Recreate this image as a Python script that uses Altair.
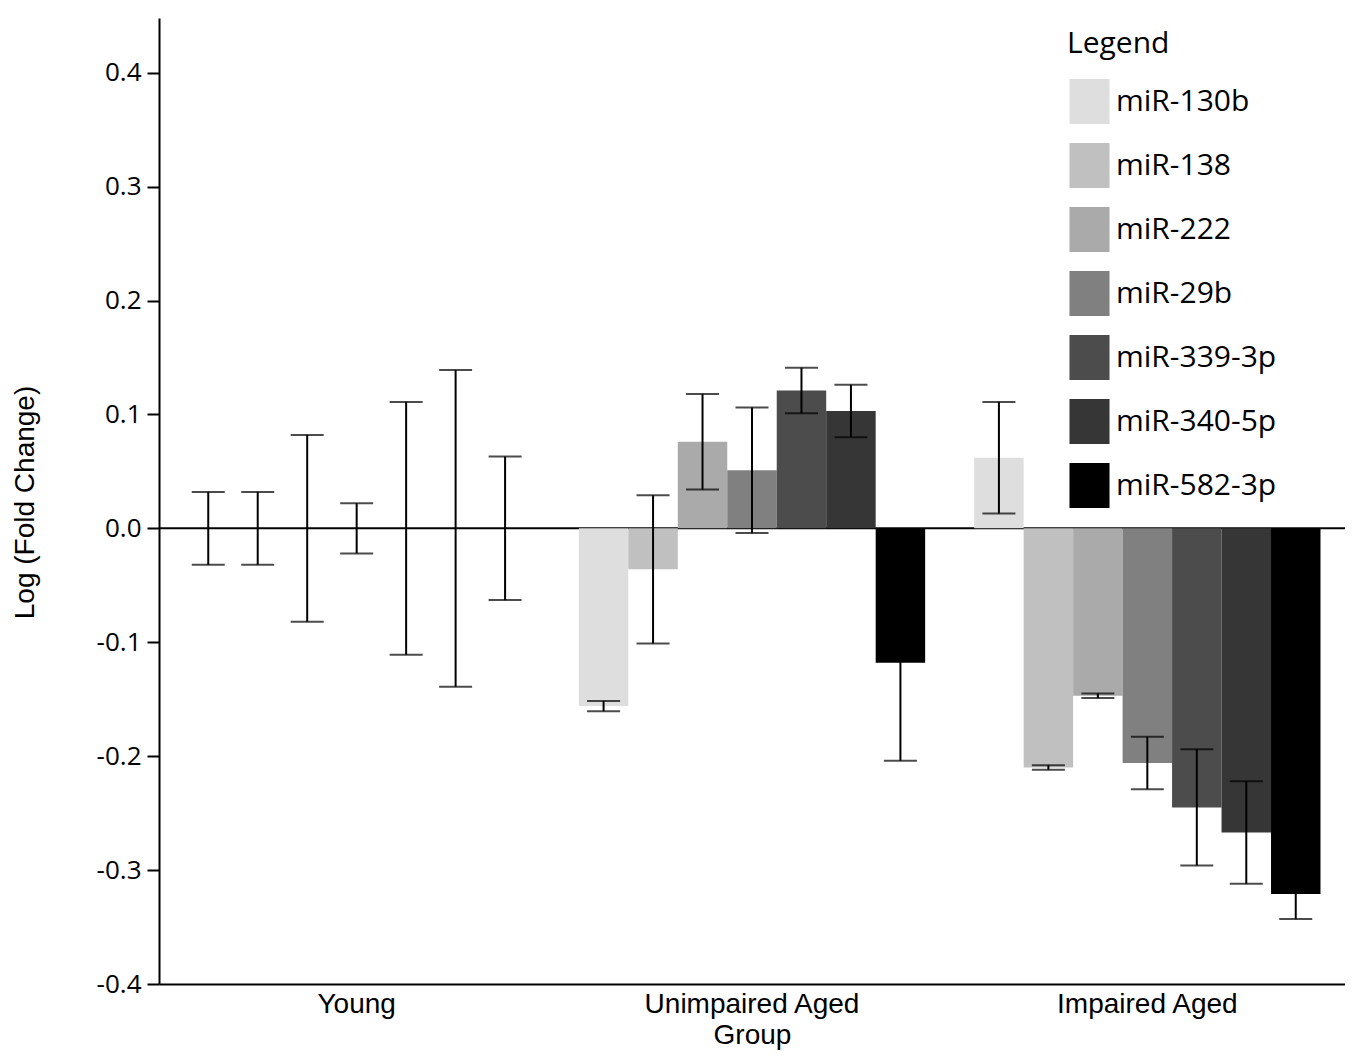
import altair as alt
import pandas as pd

groups = ["Young", "Unimpaired Aged", "Impaired Aged"]
mirs = ["miR-130b", "miR-138", "miR-222", "miR-29b", "miR-339-3p", "miR-340-5p", "miR-582-3p"]
colors = ["#dedede", "#c0c0c0", "#aaaaaa", "#808080", "#4c4c4c", "#363636", "#000000"]

young_vals = [0.0, 0.0, 0.0, 0.0, 0.0, 0.0, 0.0]
young_err = [0.032, 0.032, 0.082, 0.022, 0.111, 0.139, 0.063]
unimp_vals = [-0.156, -0.036, 0.076, 0.051, 0.121, 0.103, -0.118]
unimp_err = [0.0045, 0.065, 0.042, 0.055, 0.020, 0.023, 0.086]
imp_vals = [0.062, -0.210, -0.147, -0.206, -0.245, -0.267, -0.321]
imp_err = [0.049, 0.002, 0.002, 0.023, 0.051, 0.045, 0.022]
y_ticks = [-0.4, -0.3, -0.2, -0.1, 0.0, 0.1, 0.2, 0.3, 0.4]

rows = []
for g, vals, errs in zip(groups, [young_vals, unimp_vals, imp_vals], [young_err, unimp_err, imp_err]):
    for m, v, e in zip(mirs, vals, errs):
        rows.append({"group": g, "mir": m, "value": v, "lo": v - e, "hi": v + e})
df = pd.DataFrame(rows)

text_font = "Liberation Sans"

x_enc = alt.X("group:N", sort=groups, title="Group",
              scale=alt.Scale(paddingInner=0.124, paddingOuter=0.062),
              axis=alt.Axis(labelAngle=0, ticks=False, labelFont=text_font, labelFontSize=28,
                            labelPadding=6, labelLimit=0, titleFont=text_font, titleFontSize=28,
                            titleFontWeight="normal", titleY=59, titleBaseline="alphabetic",
                            labelColor="black", titleColor="black"))
xo_enc = alt.XOffset("mir:N", sort=mirs, scale=alt.Scale(paddingInner=0, paddingOuter=0))

y_scale = alt.Scale(domain=[-0.4, 0.448], nice=False, zero=False)

zero = alt.Chart(pd.DataFrame({"z": [0.0]})).mark_rule(color="black", strokeWidth=2).encode(
    y=alt.Y("z:Q", scale=y_scale)
)

bars = alt.Chart(df).mark_bar(opacity=1).encode(
    x=x_enc,
    xOffset=xo_enc,
    y=alt.Y("value:Q", scale=y_scale, title="Log (Fold Change)",
            axis=alt.Axis(values=y_ticks,
                          labelExpr="datum.value < 0 ? '-' + format(-datum.value, '.1f') : format(datum.value, '.1f')",
                          grid=False, tickSize=12, labelPadding=6, labelFont="Open Sans",
                          labelFontSize=26, labelColor="black", titleFont=text_font,
                          titleFontSize=28, titleFontWeight="normal", titleColor="black",
                          titleX=-126, titleY=484, titleAngle=-90, titleBaseline="alphabetic",
                          titleAlign="center", labelLimit=0)),
    y2=alt.datum(0),
    color=alt.Color("mir:N", sort=mirs, scale=alt.Scale(domain=mirs, range=colors),
                    legend=alt.Legend(title="Legend", orient="none", legendX=908, legendY=11,
                                      symbolType="M-0.89,-1H0.89V1H-0.89Z", symbolSize=2025,
                                      symbolStrokeWidth=0, symbolOpacity=1,
                                      labelFont="Open Sans", labelFontSize=30,
                                      titleFont="Open Sans", titleFontSize=30,
                                      titleFontWeight="normal", rowPadding=19, titlePadding=20,
                                      labelOffset=4, labelColor="black", titleColor="black",
                                      labelLimit=0)),
)

err_rule = alt.Chart(df).mark_rule(color="black", strokeWidth=2).encode(
    x=alt.X("group:N", sort=groups),
    xOffset=alt.XOffset("mir:N", sort=mirs),
    y=alt.Y("lo:Q", scale=y_scale),
    y2="hi:Q",
)
cap_lo = alt.Chart(df).mark_tick(color="black", thickness=2, size=33, orient="horizontal").encode(
    x=alt.X("group:N", sort=groups),
    xOffset=alt.XOffset("mir:N", sort=mirs),
    y=alt.Y("lo:Q", scale=y_scale),
)
cap_hi = alt.Chart(df).mark_tick(color="black", thickness=2, size=33, orient="horizontal").encode(
    x=alt.X("group:N", sort=groups),
    xOffset=alt.XOffset("mir:N", sort=mirs),
    y=alt.Y("hi:Q", scale=y_scale),
)

chart = alt.layer(zero, bars, err_rule, cap_lo, cap_hi).properties(
    width=1186, height=966,
    autosize=alt.AutoSizeParams(type="none"),
    padding={"left": 151, "top": 10, "right": 0, "bottom": 66},
).configure_view(stroke=None).configure_axis(
    domainColor="black", domainWidth=2, tickColor="black", tickWidth=2
)

chart.save("out.html", embed_options={"renderer": "svg", "actions": False})
